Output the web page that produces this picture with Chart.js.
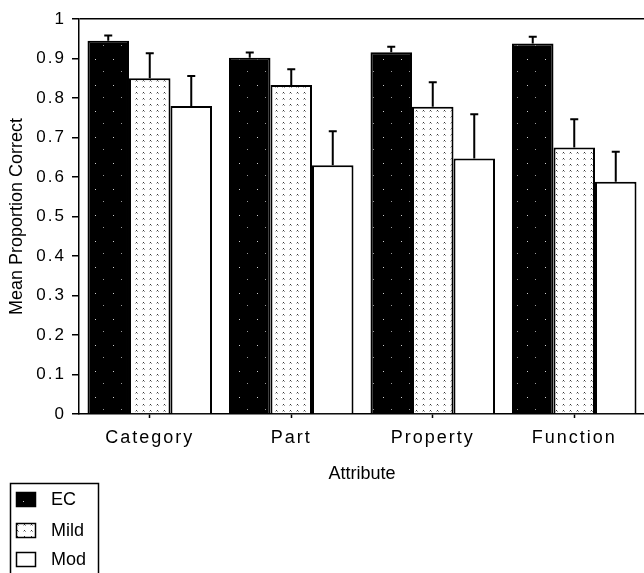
<!DOCTYPE html>
<html><head><meta charset="utf-8">
<script src="https://cdn.jsdelivr.net/npm/chart.js@4/dist/chart.umd.min.js"></script>
<style>
html,body{margin:0;padding:0;background:#fff;overflow:hidden;}
#wrap{position:relative;width:650px;height:573px;}
</style></head><body>
<div id="wrap"><canvas id="c"></canvas></div>
<script>
const categories = ['Category', 'Part', 'Property', 'Function'];
const seriesNames = ['EC', 'Mild', 'Mod'];
const ecValues   = [0.945, 0.902, 0.916, 0.938];
const ecErrors   = [0.013, 0.013, 0.014, 0.017];
const mildValues = [0.850, 0.833, 0.778, 0.675];
const mildErrors = [0.063, 0.040, 0.062, 0.071];
const modValues  = [0.780, 0.630, 0.647, 0.588];
const modErrors  = [0.076, 0.086, 0.112, 0.076];
const yTickLabels = ['0', '0.1', '0.2', '0.3', '0.4', '0.5', '0.6', '0.7', '0.8', '0.9', '1'];
const xAxisTitle = 'Attribute';
const yAxisTitle = 'Mean Proportion Correct';

const FONT = '"Liberation Sans", Arial, Helvetica, sans-serif';
Chart.defaults.color = '#000';
Chart.defaults.font.family = FONT;

const canvas = document.getElementById('c');
const ctx0 = canvas.getContext('2d');

function makePattern(w, h, bg, dots) {
  const c = document.createElement('canvas');
  c.width = w; c.height = h;
  const g = c.getContext('2d');
  g.fillStyle = bg; g.fillRect(0, 0, w, h);
  dots.forEach(([x, y, col]) => { g.fillStyle = col; g.fillRect(x, y, 1, 1); });
  return ctx0.createPattern(c, 'repeat');
}
const ecFill = makePattern(18, 26, '#000', [[5, 7, '#ccc'], [13, 19, '#999']]);
const mildFill = makePattern(7, 6, '#fff', [[3, 2, '#333'], [4, 3, '#999'], [2, 3, '#bbb']]);
const modFill = '#fff';

const errorBars = {
  id: 'errorBars',
  beforeDraw(chart) { chart.ctx.letterSpacing = '0px'; },
  afterDatasetsDraw(chart) {
    const ctx = chart.ctx;
    const ys = chart.scales.y;
    ctx.save();
    ctx.strokeStyle = '#000';
    ctx.lineWidth = 2;
    chart.data.datasets.forEach((ds, i) => {
      const meta = chart.getDatasetMeta(i);
      meta.data.forEach((el, j) => {
        const top = ys.getPixelForValue(ds.data[j] + ds.errors[j]);
        ctx.beginPath();
        ctx.moveTo(el.x, el.y);
        ctx.lineTo(el.x, top);
        ctx.moveTo(el.x - 4, top);
        ctx.lineTo(el.x + 4, top);
        ctx.stroke();
      });
    });
    ctx.restore();
    ctx.letterSpacing = '2px';
  },
  afterDraw(chart) {
    const ctx = chart.ctx;
    ctx.letterSpacing = '0px';
    ctx.save();
    ctx.strokeStyle = '#000';
    ctx.lineWidth = 1.5;
    ctx.strokeRect(10.5, 483.5, 88, 110);
    const rows = [499, 530, 559];
    chart.data.datasets.forEach((ds, i) => {
      const cy = rows[i];
      ctx.fillStyle = ds.backgroundColor;
      ctx.fillRect(16, cy - 7, 20, 15);
      ctx.lineWidth = 1.5;
      ctx.strokeRect(16.5, cy - 7 + 0.5, 19, 14);
      ctx.fillStyle = '#000';
      ctx.font = '18px ' + FONT;
      ctx.textBaseline = 'middle';
      ctx.textAlign = 'left';
      ctx.fillText(ds.label, 51, cy + 1);
    });
    ctx.restore();
  }
};

new Chart(canvas, {
  type: 'bar',
  data: {
    labels: categories,
    datasets: [
      { label: seriesNames[0], data: ecValues, errors: ecErrors, backgroundColor: ecFill, borderColor: '#000', borderWidth: 2 },
      { label: seriesNames[1], data: mildValues, errors: mildErrors, backgroundColor: mildFill, borderColor: '#000', borderWidth: 2 },
      { label: seriesNames[2], data: modValues, errors: modErrors, backgroundColor: modFill, borderColor: '#000', borderWidth: 2 }
    ]
  },
  options: {
    responsive: true,
    maintainAspectRatio: false,
    animation: false,
    devicePixelRatio: 1,
    layout: { padding: { top: 19, left: 0, right: 5, bottom: 88 } },
    plugins: { legend: { display: false }, tooltip: { enabled: false } },
    datasets: { bar: { barPercentage: 1, categoryPercentage: 0.88 } },
    scales: {
      x: {
        grid: { drawOnChartArea: false, drawTicks: true, tickLength: 4, tickColor: '#000', tickWidth: 1.5, offset: false },
        border: { display: true, color: '#000', width: 1.5 },
        ticks: { color: '#000', font: { size: 18 }, padding: 9, z: 1, maxRotation: 0 },
        title: { display: true, text: xAxisTitle, color: '#000', font: { size: 18 }, padding: { top: 0, bottom: 0 } },
        afterFit: s => { s.height = 71; }
      },
      y: {
        min: 0, max: 1,
        ticks: { stepSize: 0.1, callback: (v, i) => yTickLabels[i], color: '#000', font: { size: 17 }, padding: 6, z: 1 },
        grid: {
          color: c => (c.tick && Math.abs(c.tick.value - 1) < 1e-9) ? '#000' : 'rgba(0,0,0,0)',
          tickColor: '#000', tickLength: 7, lineWidth: 1.5, drawTicks: true
        },
        border: { display: true, color: '#000', width: 1.5 },
        title: { display: true, text: yAxisTitle, color: '#000', font: { size: 18 }, padding: { top: 6, bottom: 0 } },
        afterFit: s => { s.width = 79; }
      }
    }
  },
  plugins: [errorBars]
});
</script>
</body></html>
